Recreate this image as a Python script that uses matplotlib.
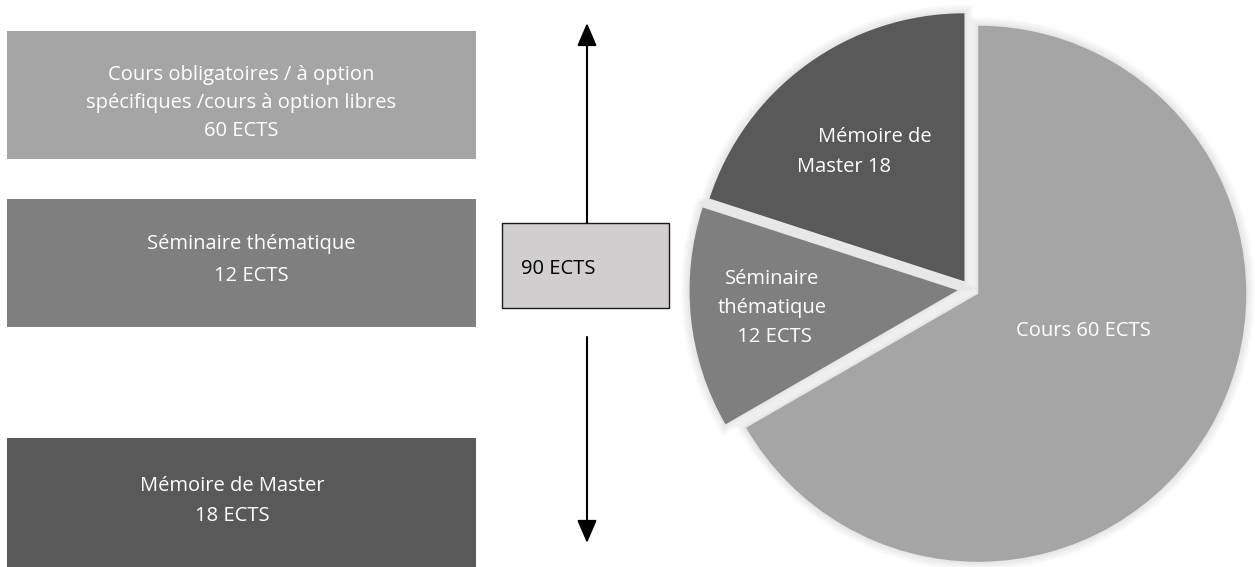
import matplotlib
matplotlib.use("Agg")
import matplotlib.pyplot as plt
import matplotlib.patheffects as pe
from matplotlib.patches import Rectangle, FancyArrowPatch

# ---------------- data ----------------
categories = ["Cours", "Séminaire thématique", "Mémoire de Master"]
ects = [60, 12, 18]
total_ects = 90
box_titles = ["Cours obligatoires / à option\nspécifiques /cours à option libres",
              "Séminaire thématique",
              "Mémoire de Master"]
pie_labels = ["Cours 60 ECTS", "Séminaire\nthématique\n 12 ECTS", "    Mémoire de\nMaster 18"]

# ---------------- style ----------------
colors = ["#a5a5a5", "#7f7f7f", "#595959"]
FONT = ["Open Sans", "DejaVu Sans"]
plt.rcParams["font.family"] = FONT
FS = 14.5

W, H = 1255, 567
fig = plt.figure(figsize=(W / 100, H / 100), dpi=100)
ax = fig.add_axes([0, 0, 1, 1])
ax.set_xlim(0, W)
ax.set_ylim(0, H)
ax.axis("off")

def Y(y):  # image-row to data y
    return H - y

# left boxes (x0, y_top, width, height, text x, text y, line spacing)
box_layout = [(7, 31, 469, 128, 241, 103, 1.55),
              (7, 199, 469, 128, 251, 260, 1.75),
              (7, 438, 469, 129, 232, 501, 1.7)]
for (x0, yt, w, h, tx, ty, ls), title, val, c in zip(box_layout, box_titles, ects, colors):
    ax.add_patch(Rectangle((x0, Y(yt + h)), w, h, facecolor=c, edgecolor="none"))
    ax.text(tx, Y(ty), f"{title}\n{val} ECTS", ha="center", va="center",
            color="white", fontsize=FS, linespacing=ls)

# total box
ax.add_patch(Rectangle((502, Y(308)), 167, 85, facecolor="#d0cece",
                       edgecolor="#1a1a1a", linewidth=1.0))
ax.text(521, Y(269), f"{total_ects} ECTS", ha="left", va="center",
        color="black", fontsize=FS)

# arrows
arrow_style = "-|>,head_length=1.4,head_width=0.6"
for ya, yb in [(223, 23), (337, 543)]:
    ax.add_patch(FancyArrowPatch((587, Y(ya)), (587, Y(yb)), arrowstyle=arrow_style,
                                 mutation_scale=10, color="black", linewidth=1.5,
                                 shrinkA=0, shrinkB=0))

# pie (explode is in data units here since radius is in pixels)
center = (970, Y(289))
radius = 268
explode = [9.5, 12.5, 9.5]
wedges, _ = ax.pie(ects, colors=colors, startangle=90, counterclock=False,
                   center=center, radius=radius, explode=explode,
                   wedgeprops=dict(linewidth=0))
glow = [pe.Stroke(linewidth=lw, foreground="#000000", alpha=0.022) for lw in (12, 9, 6, 3)]
for wdg in wedges:
    wdg.set_path_effects(glow + [pe.Normal()])
ax.set_xlim(0, W)
ax.set_ylim(0, H)
ax.set_aspect("auto")

label_pos = [(1083, 331, "center"), (772, 308, "center"), (797, 152, "left")]
for (lx, ly, ha), lab in zip(label_pos, pie_labels):
    ax.text(lx, Y(ly), lab, ha=ha, va="center", color="white", multialignment=ha,
            fontsize=FS, linespacing=1.62)

fig.savefig("out.png", dpi=100)
